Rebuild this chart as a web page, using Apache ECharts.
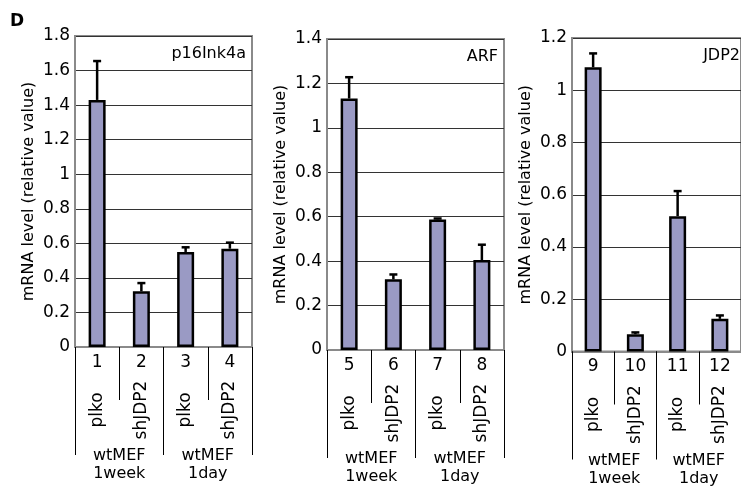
<!DOCTYPE html>
<html>
<head>
<meta charset="utf-8">
<script src="https://cdn.jsdelivr.net/npm/echarts@6/dist/echarts.min.js"></script>
<style>html,body{margin:0;padding:0;background:#fff}#c{width:741px;height:488px}</style>
</head>
<body>
<div id="c"></div>
<script>
// ---- data ----
const laneNumbers = [['1','2','3','4'], ['5','6','7','8'], ['9','10','11','12']];
const treatments = ['plko', 'shJDP2', 'plko', 'shJDP2'];
const groups = ['wtMEF\n1week', 'wtMEF\n1day'];
const genes = ['p16Ink4a', 'ARF', 'JDP2'];
const p16Values = [1.43, 0.322, 0.55, 0.569];
const p16Errors = [0.225, 0.048, 0.027, 0.035];
const arfValues = [1.132, 0.318, 0.588, 0.405];
const arfErrors = [0.096, 0.022, 0.004, 0.069];
const jdp2Values = [1.088, 0.066, 0.518, 0.125];
const jdp2Errors = [0.053, 0.007, 0.096, 0.013];
const yMax = [1.8, 1.4, 1.2];
const yTickStep = 0.2;
const yTitle = 'mRNA level (relative value)';
const panelLetter = 'D';

const values = [p16Values, arfValues, jdp2Values];
const errors = [p16Errors, arfErrors, jdp2Errors];

// ---- layout ----
const FONT = 'DejaVu Sans';
const grids = [
  {left: 75, top: 36, width: 177, height: 311},
  {left: 327, top: 39, width: 177, height: 311},
  {left: 572, top: 38, width: 174, height: 313.5}
];
const BAR_COLOR = '#9a9ac4';
const BORDER_GRAY = '#8a8a8a';

const option = {
  animation: false,
  backgroundColor: '#fff',
  textStyle: {fontFamily: FONT, color: '#000'},
  title: [{text: panelLetter, left: 10, top: 13, padding: 0,
    textStyle: {fontFamily: FONT, fontWeight: 'bold', fontSize: 17, color: '#000'}}],
  grid: [],
  xAxis: [],
  yAxis: [],
  series: []
};

grids.forEach((g, i) => {
  option.grid.push(Object.assign({show: true, borderColor: BORDER_GRAY, borderWidth: 2, backgroundColor: 'transparent'}, g));
  option.title.push({
    text: genes[i], padding: 0,
    right: 741 - (g.left + g.width) + 6,
    top: g.top + 10,
    textStyle: {fontFamily: FONT, fontSize: 16, fontWeight: 'normal', color: '#000'}
  });
  // lane number axis
  option.xAxis.push({
    type: 'category', gridIndex: i, position: 'bottom', data: laneNumbers[i],
    axisLine: {show: true, lineStyle: {color: BORDER_GRAY, width: 2}},
    axisTick: {show: true, length: 53, lineStyle: {color: '#000', width: 1}},
    axisLabel: {fontSize: 17, color: '#000', fontFamily: FONT, margin: 7, interval: 0},
    splitLine: {show: false}
  });
  // treatment axis (rotated)
  option.xAxis.push({
    type: 'category', gridIndex: i, position: 'bottom', data: treatments,
    axisLine: {show: false}, axisTick: {show: false},
    axisLabel: {fontSize: 17, color: '#000', fontFamily: FONT, rotate: 90, margin: 63, align: 'center', verticalAlign: 'middle', interval: 0}
  });
  // group axis
  option.xAxis.push({
    type: 'category', gridIndex: i, position: 'bottom', data: groups,
    axisLine: {show: false},
    axisTick: {show: true, length: 108, lineStyle: {color: '#000', width: 1}},
    axisLabel: {fontSize: 16, color: '#000', fontFamily: FONT, margin: 100, lineHeight: 18, interval: 0}
  });
  option.yAxis.push({
    type: 'value', gridIndex: i, min: 0, max: yMax[i], interval: yTickStep,
    name: yTitle, nameLocation: 'middle', nameGap: 38,
    nameTextStyle: {fontSize: 16, color: '#000', fontFamily: FONT},
    axisLine: {show: true, lineStyle: {color: BORDER_GRAY, width: 2}},
    axisTick: {show: false},
    axisLabel: {fontSize: 17, color: '#000', fontFamily: FONT, margin: 5,
      formatter: v => String(Math.round(v * 10) / 10)},
    splitLine: {show: true, lineStyle: {color: '#333', width: 1}}
  });
  option.series.push({
    type: 'bar', xAxisIndex: i * 3, yAxisIndex: i, data: values[i],
    barWidth: 17,
    itemStyle: {color: BAR_COLOR, borderColor: '#000', borderWidth: 2.5},
    z: 3
  });
  option.series.push({
    type: 'custom', xAxisIndex: i * 3, yAxisIndex: i, z: 4,
    data: values[i].map((v, k) => [k, v, errors[i][k]]),
    encode: {x: 0, y: 1},
    renderItem: function (params, api) {
      const x = api.value(0), v = api.value(1), e = api.value(2);
      const p0 = api.coord([x, v]);
      const p1 = api.coord([x, v + e]);
      const st = {stroke: '#000', lineWidth: 2.5};
      return {
        type: 'group',
        children: [
          {type: 'line', shape: {x1: p0[0], y1: p0[1], x2: p1[0], y2: p1[1]}, style: st},
          {type: 'line', shape: {x1: p1[0] - 4, y1: p1[1], x2: p1[0] + 4, y2: p1[1]}, style: st}
        ]
      };
    }
  });
});

const chart = echarts.init(document.getElementById('c'), null, {renderer: 'canvas'});
chart.setOption(option);
</script>
</body>
</html>
